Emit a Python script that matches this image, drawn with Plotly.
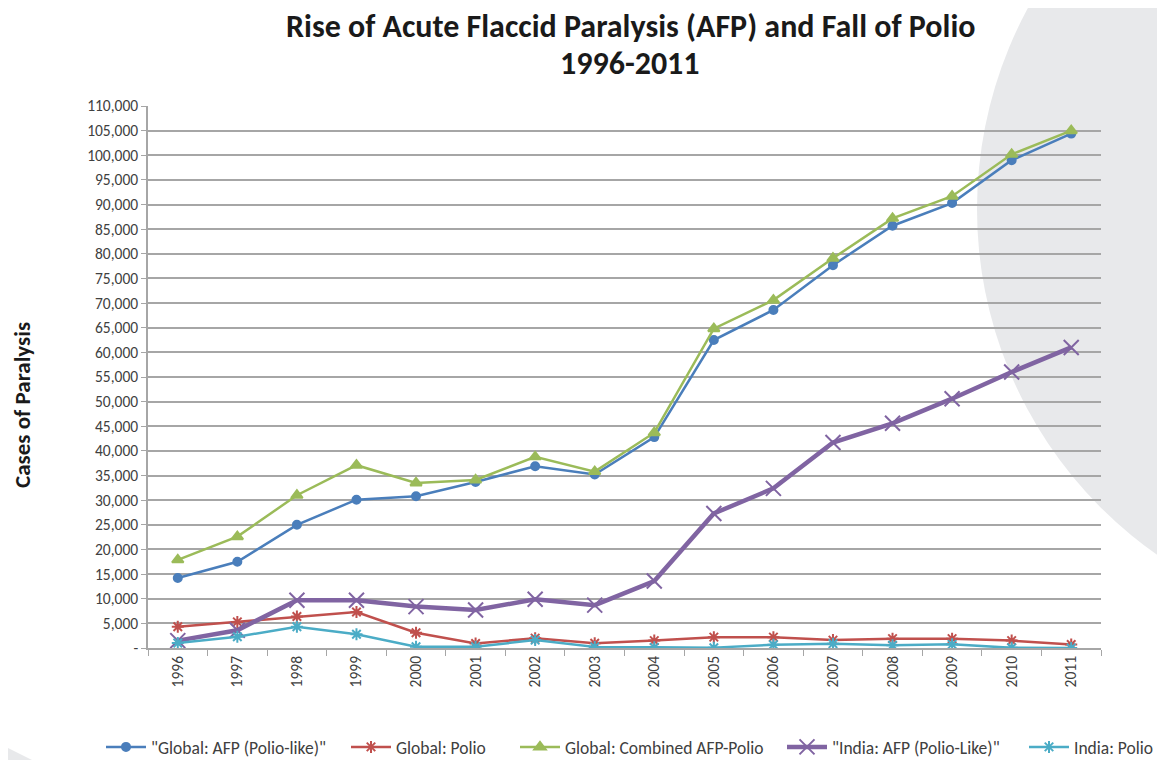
import plotly.graph_objects as go

years = [str(y) for y in range(1996, 2012)]

global_afp = [14200, 17500, 25000, 30100, 30800, 33700, 36900, 35200, 42800,
              62500, 68600, 77700, 85700, 90300, 99000, 104400]
global_polio = [4300, 5300, 6400, 7300, 3100, 900, 2000, 950, 1500,
                2200, 2200, 1600, 1900, 1900, 1500, 700]
global_combined = [17900, 22600, 31000, 37100, 33500, 34100, 38800, 35800, 43700,
                   64800, 70600, 79100, 87200, 91700, 100200, 105000]
india_afp = [1500, 3600, 9700, 9700, 8400, 7700, 9900, 8700, 13600,
             27300, 32400, 41700, 45600, 50600, 56000, 61000]
india_polio = [1000, 2300, 4300, 2800, 265, 268, 1600, 225, 134,
               66, 676, 874, 559, 741, 42, 1]

ytick_vals = list(range(0, 110001, 5000))
ytick_text = ["-"] + [f"{v:,}" for v in ytick_vals[1:]]

# page has an 8px body margin; size the figure to fit the 1165x760 window
OFF = 8
W, H = 1165 - OFF, 760 - OFF
# target plot area in screen pixels: x 148..1101, y 106..648
ML, MT = 148 - OFF, 106 - OFF
MR, MB = W - (1101 - OFF), H - (648 - OFF)
PW, PH = W - ML - MR, H - MT - MB


def px(x):
    return (x - OFF - ML) / PW


def py(y):
    return (H - MB - (y - OFF)) / PH


FONT = "Carlito, Calibri, 'Liberation Sans Narrow', 'Open Sans', sans-serif"

series = [
    ('"Global: AFP (Polio-like)"', global_afp, "#4a7ebb", "circle", 8, 2.5, 112),
    ("Global: Polio", global_polio, "#c0504d", "asterisk-open", 10, 2.5, 357),
    ("Global: Combined AFP-Polio", global_combined, "#9bbb59", "triangle-up", 10, 2.5, 526),
    ('"India: AFP (Polio-Like)"', india_afp, "#8064a2", "x-thin-open", 15, 4.5, 793),
    ("India: Polio", india_polio, "#4bacc6", "asterisk-open", 10, 2.5, 1035),
]

fig = go.Figure()
legends = {}
for i, (name, vals, color, sym, size, lw, lx) in enumerate(series):
    lname = "legend" if i == 0 else f"legend{i + 1}"
    fig.add_trace(go.Scatter(
        x=years, y=vals, name=name, mode="lines+markers",
        line=dict(color=color, width=lw),
        marker=dict(symbol=sym, size=size, color=color,
                    line=dict(color=color, width=2)),
        legend=lname, showlegend=True,
    ))
    legends[lname] = dict(
        orientation="h", x=px(lx - 11), xanchor="left", y=py(747), yanchor="middle",
        font=dict(size=17.5, color="#404040"), bgcolor="rgba(0,0,0,0)",
        itemwidth=40,
    )

fig.update_layout(
    width=W, height=H,
    showlegend=True,
    margin=dict(l=ML, r=MR, t=MT, b=MB, autoexpand=False),
    paper_bgcolor="white",
    plot_bgcolor="rgba(0,0,0,0)",
    font=dict(family=FONT, color="#404040", size=15),
    xaxis=dict(
        type="category", range=[-0.5, 15.5], automargin=False,
        showgrid=False, showline=True, linecolor="#a6a6a6", linewidth=1.5,
        ticks="outside", tickson="boundaries", ticklen=6, tickcolor="#a6a6a6",
        tickangle=-90, tickfont=dict(size=15.5, color="#404040"),
    ),
    yaxis=dict(
        range=[0, 110000], tickvals=ytick_vals, ticktext=ytick_text, automargin=False,
        showgrid=True, gridcolor="#a6a6a6", gridwidth=1.5,
        showline=True, linecolor="#a6a6a6", linewidth=1.5,
        ticks="outside", ticklen=5, tickcolor="#a6a6a6",
        tickfont=dict(size=15.5, color="#404040"), zeroline=False,
    ),
    annotations=[
        dict(text="Rise of Acute Flaccid Paralysis (AFP) and Fall of Polio",
             showarrow=False, xref="paper", yref="paper",
             x=px(630), y=py(26), xanchor="center", yanchor="middle",
             font=dict(family=FONT, size=32, color="#1a1a1a", weight="bold")),
        dict(text="1996-2011",
             showarrow=False, xref="paper", yref="paper",
             x=px(630), y=py(63), xanchor="center", yanchor="middle",
             font=dict(family=FONT, size=32, color="#1a1a1a", weight="bold")),
        dict(text="Cases of Paralysis", textangle=-90, showarrow=False,
             xref="paper", yref="paper", x=px(22), y=py(405),
             xanchor="center", yanchor="middle",
             font=dict(family=FONT, size=23, color="#1a1a1a", weight="bold")),
    ],
    shapes=[
        dict(type="circle", xref="paper", yref="paper", layer="below",
             x0=px(977), x1=px(1821), y0=py(-213), y1=py(631),
             fillcolor="#e8e9eb", line=dict(width=0)),
        dict(type="path", xref="paper", yref="paper", layer="below",
             path=f"M {px(0)},{py(744)} L {px(32)},{py(760)} L {px(0)},{py(760)} Z",
             fillcolor="#e8e9eb", line=dict(width=0)),
    ],
    **legends,
)

fig.write_html("out.html")
